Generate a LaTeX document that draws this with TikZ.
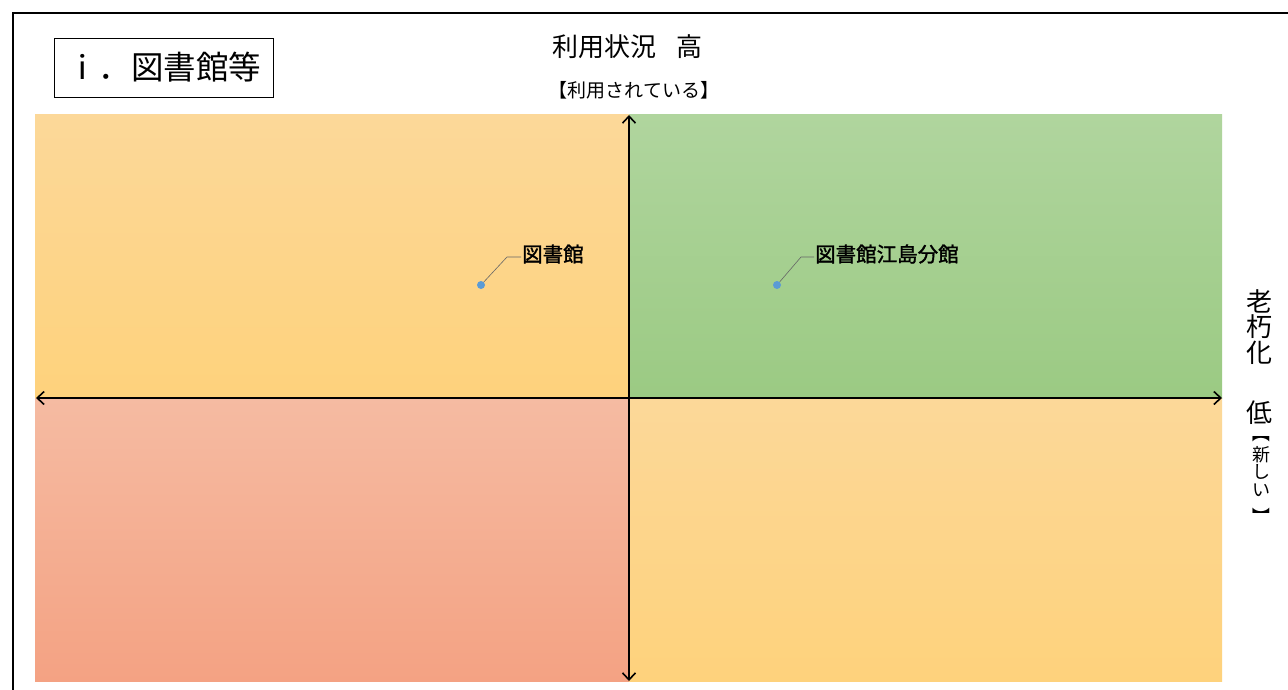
\documentclass[tikz,border=0pt]{standalone}
\usepackage{fontspec}
\newfontfamily\jp{Noto Sans CJK JP}
\newfontfamily\jpb{Noto Sans CJK JP}[FakeBold=1.5]
\usetikzlibrary{arrows.meta}
\definecolor{yTop}{HTML}{FCD899}
\definecolor{yBot}{HTML}{FED27C}
\definecolor{gTop}{HTML}{B0D59E}
\definecolor{gBot}{HTML}{9BCA83}
\definecolor{rTop}{HTML}{F5BBA2}
\definecolor{rBot}{HTML}{F4A283}
\definecolor{dotblue}{HTML}{5B9BD5}
\begin{document}
\begin{tikzpicture}[x=1pt,y=-1pt,
  axis/.style={line width=1.8pt,{Straight Barb[length=7pt,width=13pt,line width=1.6pt]}-{Straight Barb[length=7pt,width=13pt,line width=1.6pt]}},
  pt/.style={circle,fill=dotblue,inner sep=0pt,minimum size=8pt},
  lbl/.style={font=\jpb\fontsize{20.5}{22}\selectfont,inner sep=1pt,anchor=west},
  leader/.style={draw=black!60,line width=0.6pt},
  vbig/.style={font=\jp\fontsize{26}{28}\selectfont,inner sep=0pt},
  vsmall/.style={font=\jp\fontsize{18}{20}\selectfont,inner sep=0pt}]
\useasboundingbox (0,0) rectangle (1288,689);
\fill[white] (0,0) rectangle (1288,689);
% quadrants
\shade[top color=yTop,bottom color=yBot] (35,114) rectangle (629,398);
\shade[top color=gTop,bottom color=gBot] (629,114) rectangle (1222,398);
\shade[top color=rTop,bottom color=rBot] (35,398) rectangle (629,681);
\shade[top color=yTop,bottom color=yBot] (629,398) rectangle (1222,681);
% frame
\draw[line width=2pt] (13,700) -- (13,13) -- (1300,13);
% title box
\node[draw,line width=1pt,minimum width=219pt,minimum height=59pt,inner sep=0pt,font=\jp\fontsize{32.5}{34}\selectfont] (title) at (163.5,67.5) {ⅰ．図書館等};
% axes coordinates
\coordinate (L) at (36,398);
\coordinate (R) at (1222,398);
\coordinate (T) at (629,115);
\coordinate (B) at (629,681);
\draw[axis] (L) -- (R);
\draw[axis] (B) -- (T);
% top labels
\node[font=\jp\fontsize{26}{28}\selectfont,inner sep=0pt] (hi) at (627,47) {利用状況\hspace{20pt}高};
\node[font=\jp\fontsize{19}{21}\selectfont,inner sep=0pt] (hisub) at (634,90) {【利用されている】};
% right labels (vertical)
\node[vbig] (c1) at (1259,301) {老};
\node[vbig] (c2) at (1259,327) {朽};
\node[vbig] (c3) at (1259,353) {化};
\node[vbig] (low) at (1259,413) {低};
\node[vsmall] (b1) at (1261,433) {\rotatebox{-90}{【}};
\node[vsmall] (n1) at (1261,455) {新};
\node[vsmall] (n2) at (1261,472) {し};
\node[vsmall] (n3) at (1261,490) {い};
\node[vsmall] (b2) at (1261,516) {\rotatebox{-90}{】}};
% data points
\node[pt] (p1) at (481,285) {};
\node[lbl] (l1) at (521,254) {図書館};
\coordinate (k1) at (507,257);
\draw[leader] (p1) -- (k1) -- (l1.west |- k1);
\node[pt] (p2) at (777,285) {};
\node[lbl] (l2) at (814,254) {図書館江島分館};
\coordinate (k2) at (801,257);
\draw[leader] (p2) -- (k2) -- (l2.west |- k2);
\end{tikzpicture}
\end{document}
